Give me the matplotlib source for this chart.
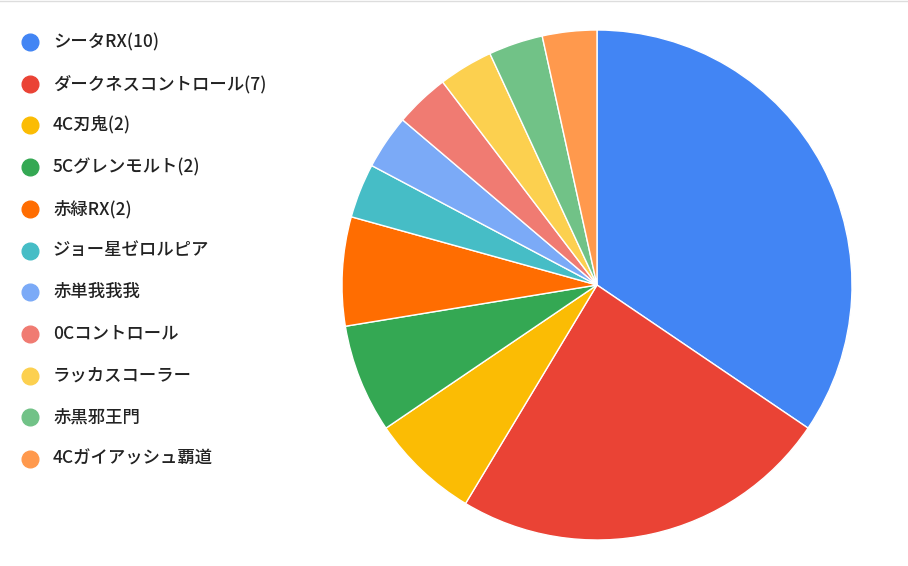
import matplotlib
matplotlib.use("Agg")
import matplotlib.pyplot as plt

plt.rcParams['font.family'] = ['Noto Sans CJK JP', 'DejaVu Sans']

labels = ["シータRX(10)", "ダークネスコントロール(7)", "4C刃鬼(2)", "5Cグレンモルト(2)",
          "赤緑RX(2)", "ジョー星ゼロルピア", "赤単我我我", "0Cコントロール",
          "ラッカスコーラー", "赤黒邪王門", "4Cガイアッシュ覇道"]
counts = [10, 7, 2, 2, 2, 1, 1, 1, 1, 1, 1]
colors = ["#4285f4", "#ea4335", "#fbbc04", "#34a853", "#ff6d01", "#46bdc6",
          "#7baaf7", "#f07b72", "#fcd04f", "#71c287", "#ff994d"]

W, H = 908, 566
fig = plt.figure(figsize=(W / 100, H / 100), dpi=100)

# pie axes: centre (597, 285) px, radius 255 px
cx, cy, r = 597, 285, 255
ax = fig.add_axes([(cx - r) / W, (H - cy - r) / H, 2 * r / W, 2 * r / H])
ax.pie(counts, colors=colors, startangle=90, counterclock=False, radius=1,
       wedgeprops=dict(edgecolor="white", linewidth=1))
ax.set_xlim(-1, 1)
ax.set_ylim(-1, 1)
ax.set_aspect("auto")
ax.axis("off")

# legend drawn by hand
lx, ly0, step = 30, 42, 41.7
for i, (lab, c) in enumerate(zip(labels, colors)):
    y = ly0 + i * step
    fig.add_artist(plt.Line2D([lx / W], [1 - y / H], marker="o", markersize=12,
                              color=c, linestyle="none"))
    fig.text(53 / W, 1 - y / H, lab, fontsize=12.5, va="center", ha="left",
             color="#222222", fontweight="medium")

# thin border line at the top
fig.add_artist(plt.Line2D([0, 1], [1 - 0.5 / H, 1 - 0.5 / H], color="#dddddd", linewidth=1))

fig.savefig("out.png", dpi=100)
